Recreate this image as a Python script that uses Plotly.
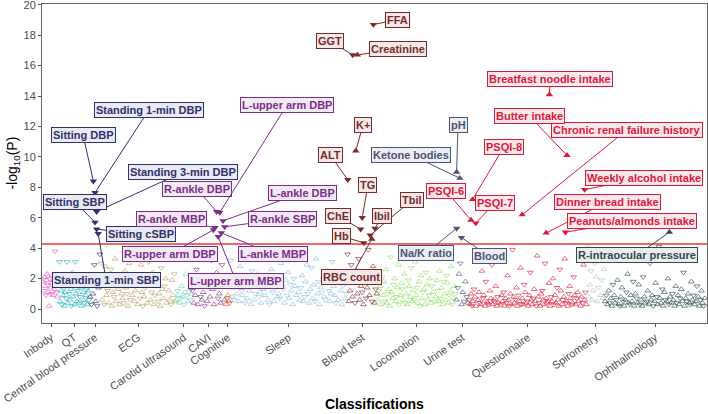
import plotly.graph_objects as go

# ---------------- DATA ----------------
categories = ["Inbody", "QT", "Central blood pressure", "ECG", "Carotid ultrasound",
              "CAVI", "Cognitive", "Sleep", "Blood test", "Locomotion", "Urine test",
              "Questionnaire", "Spirometry", "Ophthalmology"]

# signed -log10(P): sign gives effect direction (+ = up triangle, - = down triangle)
inbody = [1.8, -1.2, 2.1, 1.5, -0.9, 1.9, 2.3, -1.6, 1.1, 0.2, -2.0, 1.4, 1.7, -1.0, 2.2,
          0.9, -1.8, 1.3, -3.8, 1.6, 2.0, -1.1, 0.8, 1.5, -1.9]
qt = [-3.1, 0.5, 1.2, -0.3, 1.6, 0.9, -1.4, 0.2, 1.1, -0.7, -3.1, 0.4, 1.8, -1.0, 0.6,
      1.3, -0.2, 2.4, 0.8, -1.5, 0.3, -3.1, 1.0, 0.5, -1.2, 1.7, 0.4, -0.8, 1.4, 0.2,
      -1.9, 1.1, 0.6, -0.4, 1.5, 0.9, -1.3, 0.3, 1.2, -0.6]
central_bp = [0.8, -0.3, 1.0, -2.9, 0.5, -0.2, 1.4, -3.6]
ecg = [-3.0, 0.6, 1.5, -0.3, 2.8, 0.9, -1.2, 0.4, 1.9, -2.6, 0.2, 1.1, -0.8, 3.3, 0.5,
       -1.6, 1.3, 0.3, -2.2, 1.0, 0.7, -0.4, 2.5, 1.4, -1.0, 0.2, 3.0, -0.6, 1.7, 0.9,
       -3.4, 0.5, 1.2, -2.0, 0.3, 1.6, -0.7, 2.9, 1.1, -0.2, 0.8, -1.4, 2.1, 0.4, -3.1,
       1.5, 0.6, -1.1, 2.4, 0.3, -0.9, 1.8, 3.2, -0.5, 1.0, 0.2, -2.7, 1.3, 0.7, -1.5,
       2.0, 0.4, -3.7, 1.2, 0.6, -0.3, 1.9, 0.9, -2.3, 0.5]
carotid = [0.6, -1.2, 0.9, 0.4, -0.7, 1.5, 0.8, -0.3, 1.1, 2.3, -0.9, 0.5, 1.3, -0.6, 1.0]
cavi = [-1.2, 0.4, 0.9, -2.6, 0.3, 1.5, -0.8, 0.6, 1.1, -0.2, 2.2, 0.5, -1.5, 0.8, -3.2,
        1.3, 0.3, -3.9, 2.4, -0.7, 1.0, 0.4, -2.9, 1.8, 0.6]
cognitive = [0.3, -0.7, 0.9, 0.5, -0.4]
sleep = [-3.2, 0.8, 1.4, -0.6, 2.1, 1.0, -1.7, 0.5, 2.8, -1.2, 0.9, 1.6, -0.4, 3.4, 0.7,
         -1.9, 1.2, 0.3, -2.5, 1.5, 0.6, -1.0, 1.8, 2.3, -0.8, 1.1, 0.4, -3.6, 1.3, 0.9,
         -1.5, 2.0, 0.6, -0.3, 1.7, 2.6, -1.1, 0.5, 1.4, -2.2, 0.8, 1.0, -0.7, 3.0, 1.6,
         -1.3, 0.4, 1.9, -0.9, 2.4, 0.7, -1.6, 1.2, 0.3, -2.0, 1.5, 0.9, -3.8, 1.1, 0.6,
         -1.4, 2.2, 0.5, -0.8, 1.8, 2.9, -1.0, 0.4, 1.3, -2.7, 0.7, 1.6, -0.5, 3.3, 1.0,
         -1.8, 0.3, 1.4, -1.1, 2.1, 0.8, -0.6, 1.7, 2.5, -1.2, 0.5, 1.0, -3.1, 1.5, 0.9,
         -0.4, 1.9, 0.6, -2.3, 1.2, 0.3, -1.5, 2.0, 0.7, -1.0]
blood_test = [-3.6, 0.5, 1.2, -2.9, 0.8, 1.9, -0.4, 2.5, 1.0, -3.3, 0.6, 1.5, -1.1, 0.3,
              2.2, -0.7, 1.4, -3.9, 0.9, 1.7, -0.5, 2.8, 0.4, -1.3, 1.0]
locomotion = [0.6, -1.2, 1.5, 0.3, -2.1, 0.9, 1.8, -0.5, 2.6, 0.4, -1.0, 1.3, 0.2, -3.4,
              1.1, 0.7, -1.6, 2.0, 0.5, -0.8, 1.4, 2.9, -0.3, 0.9, 1.7, -1.3, 0.6, 2.3,
              -0.4, 1.0, 0.3, -1.9, 1.5, 0.8, -2.7, 0.5, 1.2, -0.6, 3.1, 0.9, -1.4, 0.4,
              1.8, -0.2, 2.2, 0.7, -1.1, 1.3, 0.3, -2.4, 1.6, 0.6, -0.9, 2.0, 0.4, -1.5,
              1.1, 3.3, -0.5, 0.8, 1.9, -1.2, 0.5, 2.5, -0.7, 1.4, 0.3, -1.8, 1.0, 0.6,
              -2.2, 1.7, 0.4, -0.9, 1.2, 2.8, -0.3, 0.7, 1.5, -1.0]
urine_test = [0.6, -1.4, 2.3, -3.0, 0.3, 1.1, -0.5, 1.8, -0.8, 0.4]
questionnaire = [-0.6, 0.3, 1.0, -0.2, 0.5, -1.3, 0.8, 0.2, -3.4, 0.6, 1.1, -0.4, 0.3, 2.5,
                 -0.7, 0.9, 0.2, -1.8, 0.5, 0.4, -0.3, 1.2, 0.7, -2.9, 0.3, 0.6, -0.5, 1.5,
                 0.2, -0.8, 0.4, 3.1, -0.3, 0.9, 0.5, -1.1, 0.2, 0.7, -0.4, 2.2, 0.6, -0.2,
                 1.0, 0.3, -3.9, 0.8, 0.4, -0.6, 1.4, 0.2, -0.9, 0.5, 2.7, -0.3, 0.7, 0.3,
                 -1.6, 1.1, 0.4, -0.5, 0.2, 0.9, -2.4, 0.6, 0.3, -0.7, 1.3, 0.5, -0.2, 3.5,
                 0.8, -0.4, 0.2, 1.0, -1.2, 0.6, 0.3, -3.0, 0.7, 0.4, -0.5, 1.7, 0.2, -0.8,
                 0.5, 2.0, -0.3, 0.9, 0.4, -1.4, 0.6, 0.2, -2.6, 1.2, 0.3, -0.6, 0.8, 3.3,
                 -0.4, 0.5, 0.2, -1.0, 1.5, 0.7, -0.3, 0.4, -2.1, 0.9, 0.3, -0.7, 1.1, 0.5,
                 -3.7, 0.2, 0.8, -0.4, 2.9, 0.6, -1.1, 0.3]
spirometry = [-4.0, 0.8, 1.6, -2.5, 0.6, 1.2, -3.0, 2.1, 0.5, -1.4, 3.8, 0.9, -1.9, 0.7, 2.6]
ophthalmology = [0.5, -0.9, 0.3, 1.2, -0.4, 0.7, 0.2, -1.6, 0.9, 0.4, -0.6, 1.9, 0.3, -0.2,
                 0.8, 1.4, -0.5, 0.2, 0.6, -1.1, 2.3, 0.4, -0.3, 0.9, 0.5, -1.8, 0.2, 1.0,
                 -0.7, 0.4, 1.6, -0.3, 0.6, 0.2, -2.1, 0.8, 0.4, -0.5, 1.2, 0.3, -3.0, 0.6,
                 0.9, -0.2, 0.5, 1.7, -0.8, 0.3, -4.1, 0.7, 0.4, -1.3, 0.2, 1.1, -0.6, 0.5,
                 2.0, -0.3, 0.8, 0.4, -1.0, 0.6, 0.2, 1.5, -0.4, 0.9, 0.3, -0.7, 1.3, 0.5,
                 -2.4, 0.2, 0.7, -0.5, 1.0, 0.4, -0.3, 1.8, 0.6, -0.9, 0.3, 0.5, -1.5, 0.8,
                 0.2, -0.6, 1.2, 0.4, -0.2, 0.7]

values = [inbody, qt, central_bp, ecg, carotid, cavi, cognitive, sleep, blood_test,
          locomotion, urine_test, questionnaire, spirometry, ophthalmology]

threshold = 4.27  # -log10 of Bonferroni P

# significant hits: label, category, slot within category, signed -log10(P)
hit_labels = ["Sitting DBP", "Standing 1-min DBP", "Standing 3-min DBP", "Sitting SBP",
              "Sitting cSBP", "Standing 1-min SBP",
              "R-upper arm DBP", "R-ankle MBP", "R-ankle DBP", "L-upper arm MBP",
              "L-upper arm DBP", "L-ankle MBP", "L-ankle DBP", "R-ankle SBP",
              "ALT", "GGT", "K+", "Creatinine", "ChE", "TG", "Hb", "Tbil", "RBC count",
              "FFA", "Ibil",
              "pH", "Ketone bodies", "Na/K ratio", "Blood",
              "PSQI-6", "PSQI-8", "PSQI-7", "Chronic renal failure history",
              "Dinner bread intake", "Breatfast noodle intake", "Peanuts/almonds intake",
              "Butter intake", "Weekly alcohol intake",
              "R-intraocular pressure"]
hit_category = ["Central blood pressure"] * 6 + ["CAVI"] * 8 + ["Blood test"] * 11 + \
               ["Urine test"] * 4 + ["Questionnaire"] * 9 + ["Ophthalmology"]
hit_slot = [2, 3, 4, 3, 4, 5,
            13, 14, 15, 16, 17, 18, 19, 20,
            0, 3, 5, 6, 8, 9, 10, 14, 15, 16, 17,
            0, 2, 0, 3,
            1, 2, 4, 33, 48, 50, 60, 61, 72,
            40]
hit_value = [-8.4, -7.65, -6.4, -5.7, -5.25, -4.95,
             -5.2, -5.35, -6.4, -4.75, -6.35, -5.0, -5.8, -5.4,
             -8.5, -16.7, 10.4, 16.7, -5.25, -6.0, -4.35, -4.85, 4.6, -18.7, -5.3,
             9.0, 8.6, -5.3, -4.7,
             5.85, 7.2, -5.65, 6.2, 5.0, 14.1, -5.05, 10.1, -7.85,
             5.05]

# ---------------- LAYOUT / STYLE ----------------
cat_width = [10, 19, 7, 47, 10, 21, 3, 73, 19, 49, 8, 74, 11, 63]
cat_color = {
    "Inbody": "#E85BC6", "QT": "#1FB0B8", "Central blood pressure": "#2D3170",
    "ECG": "#B79F67", "Carotid ultrasound": "#6FD8C3", "CAVI": "#7A2E8A",
    "Cognitive": "#E4572E", "Sleep": "#8BBEE3", "Blood test": "#7A2A2A",
    "Locomotion": "#8CDF5F", "Urine test": "#475775", "Questionnaire": "#D81B3C",
    "Spirometry": "#A8C5BD", "Ophthalmology": "#2F4A4C",
}
label_pos = {
    "Sitting DBP": (24.5, 11.45), "Standing 1-min DBP": (65.75, 13.1),
    "Standing 3-min DBP": (87.0, 9.0), "Sitting SBP": (19.5, 7.05),
    "Sitting cSBP": (60.75, 4.93), "Standing 1-min SBP": (38.9, 1.9),
    "L-upper arm DBP": (152.0, 13.42), "R-ankle DBP": (95.75, 7.89),
    "L-ankle DBP": (161.4, 7.63), "R-ankle MBP": (79.5, 5.92),
    "R-ankle SBP": (148.9, 5.92), "L-ankle MBP": (143.25, 3.62),
    "R-upper arm DBP": (78.9, 3.62), "L-upper arm MBP": (120.1, 1.84),
    "FFA": (220.75, 19.01), "GGT": (178.9, 17.63), "Creatinine": (221.4, 17.1),
    "K+": (199.5, 12.1), "ALT": (178.9, 10.13), "TG": (202.6, 8.16),
    "ChE": (183.9, 6.12), "Ibil": (211.4, 6.12), "Tbil": (230.1, 7.17),
    "Hb": (185.75, 4.8), "RBC count": (192.0, 2.1),
    "pH": (258.9, 12.1), "Ketone bodies": (229.5, 10.13),
    "Na/K ratio": (238.9, 3.68), "Blood": (278.25, 3.49),
    "Breatfast noodle intake": (316.4, 15.13), "Butter intake": (303.25, 12.7),
    "Chronic renal failure history": (364.5, 11.78), "PSQI-8": (287.6, 10.66),
    "PSQI-6": (251.4, 7.76), "PSQI-7": (282.0, 6.97),
    "Weekly alcohol intake": (375.1, 8.62), "Dinner bread intake": (352.0, 7.04),
    "Peanuts/almonds intake": (367.6, 5.79), "R-intraocular pressure": (370.75, 3.55),
}


def tint(hex_color, a=0.10):
    h = hex_color.lstrip("#")
    r, g, b = int(h[0:2], 16), int(h[2:4], 16), int(h[4:6], 16)
    mix = lambda c: int(round(255 * (1 - a) + c * a))
    return f"rgb({mix(r)},{mix(g)},{mix(b)})"


starts = {}
acc = 0
for c, w in zip(categories, cat_width):
    starts[c] = acc
    acc += w
tick_vals = [starts[c] + w / 2 - 0.5 for c, w in zip(categories, cat_width)]

FONT = "Liberation Sans, Arial, Helvetica, sans-serif"
fig = go.Figure()

for c, w, vals in zip(categories, cat_width, values):
    n = len(vals)
    xs = [starts[c] + (i + 0.5) * w / n - 0.5 for i in range(n)]
    ys = [abs(v) for v in vals]
    syms = ["triangle-up-open" if v >= 0 else "triangle-down-open" for v in vals]
    fig.add_trace(go.Scatter(
        x=xs, y=ys, mode="markers", name=c, showlegend=False,
        marker=dict(symbol=syms, size=5, color=cat_color[c], opacity=0.9,
                    line=dict(width=0.7, color=cat_color[c])),
        hoverinfo="skip"))

hx = [starts[c] + s for c, s in zip(hit_category, hit_slot)]
hy = [abs(v) for v in hit_value]
fig.add_trace(go.Scatter(
    x=hx, y=hy, mode="markers", showlegend=False, hoverinfo="skip",
    marker=dict(symbol=["triangle-up" if v >= 0 else "triangle-down" for v in hit_value],
                size=6.5, color=[cat_color[c] for c in hit_category], line=dict(width=0))))

fig.add_shape(type="line", xref="paper", x0=0, x1=1, yref="y", y0=threshold, y1=threshold,
              line=dict(color="#E8382F", width=1.4), layer="below")

annotations = []
for name, c, x, y in zip(hit_labels, hit_category, hx, hy):
    lx, ly = label_pos[name]
    col = cat_color[c]
    annotations.append(dict(
        x=x, y=y, xref="x", yref="y", ax=lx, ay=ly, axref="x", ayref="y",
        text=f"<b>{name}</b>", showarrow=True, arrowhead=0, arrowwidth=1,
        arrowcolor=col, standoff=2,
        font=dict(family=FONT, size=11, color=col),
        bgcolor=tint(col), bordercolor=col, borderwidth=1, borderpad=1))

annotations.append(dict(text="<b>Classifications</b>", xref="paper", yref="paper",
                        x=0.5, y=-0.254, showarrow=False, yanchor="middle",
                        font=dict(family=FONT, size=14, color="black")))
annotations.append(dict(text="-log<sub>10</sub>(P)", xref="paper", yref="paper",
                        x=-0.045, y=0.5, showarrow=False, textangle=-90,
                        xanchor="center", yanchor="middle",
                        font=dict(family=FONT, size=14, color="black")))

fig.update_layout(
    width=708, height=414, margin=dict(l=42, r=1, t=4, b=91, autoexpand=False),
    paper_bgcolor="white", plot_bgcolor="white",
    annotations=annotations,
    xaxis=dict(range=[-1.125, 414.5], tickvals=tick_vals, ticktext=categories,
               tickangle=-35, showgrid=False, zeroline=False, showline=True, mirror=True,
               linecolor="#666666", linewidth=1, ticks="outside", ticklen=3,
               tickcolor="#555555", automargin=False,
               tickfont=dict(family=FONT, size=11, color="#4d4d4d")),
    yaxis=dict(range=[-0.92, 20.05], tickvals=list(range(0, 21, 2)), showgrid=False,
               zeroline=False, showline=True, mirror=True, linecolor="#666666",
               linewidth=1, ticks="outside", ticklen=3, tickcolor="#555555",
               automargin=False, ticklabeloverflow="allow",
               tickfont=dict(family=FONT, size=11, color="#4d4d4d")),
)

fig.write_html("out.html", config={"displayModeBar": False},
               post_script="document.body.style.margin='0px';"
                           "document.body.style.overflow='hidden';")
